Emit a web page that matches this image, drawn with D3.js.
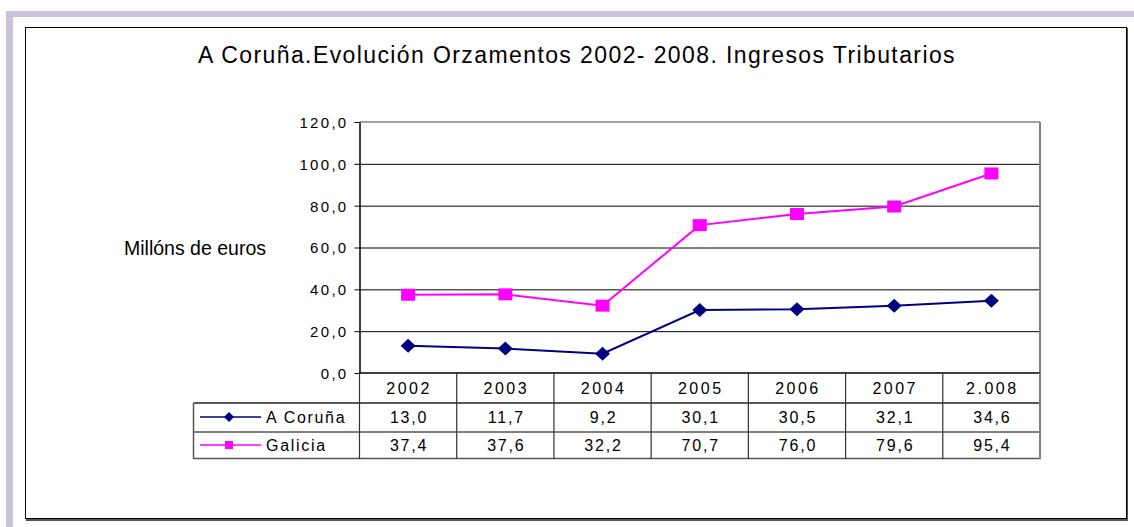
<!DOCTYPE html>
<html><head><meta charset="utf-8">
<script src="https://cdn.jsdelivr.net/npm/d3@7"></script>
<style>
html,body{margin:0;padding:0;background:#fff;}
svg{display:block;font-family:"Liberation Sans",Arial,sans-serif;}
</style></head>
<body>
<svg id="c" width="1134" height="527"></svg>
<script>
const categories = ["2002","2003","2004","2005","2006","2007","2.008"];
const coruna = [13.0, 11.7, 9.2, 30.1, 30.5, 32.1, 34.6];
const galicia = [37.4, 37.6, 32.2, 70.7, 76.0, 79.6, 95.4];
const yTicks = [0,20,40,60,80,100,120];
const seriesNames = ["A Coruña","Galicia"];
const title = "A Coruña.Evolución Orzamentos 2002- 2008. Ingresos Tributarios";
const yLabel = "Millóns de euros";

const svg = d3.select("#c");
const fmt = v => d3.format(".1f")(v).replace(".", ",");

// lavender frame
svg.append("rect").attr("x",6).attr("y",11).attr("width",1128).attr("height",6).attr("fill","#ccc1da");
svg.append("rect").attr("x",6).attr("y",11).attr("width",7).attr("height",516).attr("fill","#ccc1da");

// chart border with shadow
svg.append("line").attr("x1",1127).attr("x2",1127).attr("y1",28).attr("y2",521).attr("stroke","#555").attr("stroke-width",2);
svg.append("line").attr("x1",26).attr("x2",1128).attr("y1",520).attr("y2",520).attr("stroke","#555").attr("stroke-width",2);
svg.append("rect").attr("x",25.5).attr("y",27.5).attr("width",1101).attr("height",491)
  .attr("fill","none").attr("stroke","#000").attr("stroke-width",1);

const L = 359.5, R = 1040, T = 122, B = 373;
const x = d3.scaleBand().domain(categories).range([L, R]).padding(0);
const y = d3.scaleLinear().domain([0,120]).range([B, T]);

// title
svg.append("text").attr("x",577).attr("y",63).attr("text-anchor","middle")
  .attr("font-size",23).attr("letter-spacing",1.4).attr("fill","#000").text(title);
svg.append("text").attr("x",124).attr("y",255).attr("font-size",19.5).attr("fill","#000").text(yLabel);

// gridlines
svg.append("g").selectAll("line").data(yTicks.filter(t=>t>0 && t<120)).join("line")
  .attr("x1",L).attr("x2",R).attr("y1",d=>y(d)+0.5).attr("y2",d=>y(d)+0.5)
  .attr("stroke","#000").attr("stroke-width",1);
svg.append("line").attr("x1",L).attr("x2",R).attr("y1",y(120)).attr("y2",y(120)).attr("stroke","#808080").attr("stroke-width",1.5);
svg.append("line").attr("x1",R).attr("x2",R).attr("y1",y(120)).attr("y2",B).attr("stroke","#808080").attr("stroke-width",2);

// y axis
const ya = svg.append("g").attr("transform",`translate(${L},0)`)
  .call(d3.axisLeft(y).tickValues(yTicks).tickFormat(fmt).tickSize(5).tickSizeOuter(0));
ya.select(".domain").attr("stroke","#000").attr("stroke-width",1.5);
ya.selectAll(".tick line").attr("stroke","#000");
ya.selectAll(".tick text").attr("font-size",15).attr("letter-spacing",2.3)
  .attr("fill","#000").attr("font-family","Liberation Sans, Arial, sans-serif").attr("x",-11).attr("dy","0.36em");

svg.append("line").attr("x1",L).attr("x2",R).attr("y1",B).attr("y2",B).attr("stroke","#000").attr("stroke-width",1.5);

// table
const tbl = svg.append("g");
const LL = 193.5;
tbl.append("line").attr("x1",LL).attr("x2",R).attr("y1",403).attr("y2",403).attr("stroke","#222").attr("stroke-width",1.5);
tbl.append("line").attr("x1",LL).attr("x2",R).attr("y1",432).attr("y2",432).attr("stroke","#000").attr("stroke-width",1);
tbl.append("line").attr("x1",LL).attr("x2",R+1).attr("y1",458.5).attr("y2",458.5).attr("stroke","#555").attr("stroke-width",1.5);
tbl.append("line").attr("x1",LL).attr("x2",LL).attr("y1",403).attr("y2",459).attr("stroke","#555").attr("stroke-width",1.5);
const bounds = categories.map(c=>x(c)).concat([R]);
tbl.selectAll("line.v").data(bounds).join("line").attr("class","v")
  .attr("x1",d=>d).attr("x2",d=>d).attr("y1",B).attr("y2",459)
  .attr("stroke",(d,i)=> i===bounds.length-1 ? "#808080" : "#333").attr("stroke-width",(d,i)=> i===bounds.length-1 ? 2 : 1.2);

tbl.selectAll("text.yr").data(categories).join("text").attr("class","yr")
  .attr("x",d=>x(d)+x.bandwidth()/2+1).attr("y",394).attr("text-anchor","middle")
  .attr("font-size",16).attr("letter-spacing",2.5).attr("fill","#000").text(d=>d);
const rows = [coruna, galicia];
rows.forEach((vals,ri)=>{
  const yy = ri===0 ? 423 : 451;
  tbl.selectAll("text.r"+ri).data(vals).join("text").attr("class","r"+ri)
    .attr("x",(d,i)=>x(categories[i])+x.bandwidth()/2+1).attr("y",yy).attr("text-anchor","middle")
    .attr("font-size",16).attr("letter-spacing",1.8).attr("fill","#000").text(d=>fmt(d));
});

// series
const colors = ["#000080","#ff00ff"];
const cx = i => x(categories[i]) + x.bandwidth()/2;
const line = d3.line().x((d,i)=>cx(i)).y(d=>y(d));
rows.forEach((vals,ri)=>{
  svg.append("path").datum(vals).attr("d",line).attr("fill","none")
    .attr("stroke",colors[ri]).attr("stroke-width",2);
});
svg.append("g").selectAll("path").data(coruna).join("path")
  .attr("d",(d,i)=>`M${cx(i)},${y(d)-7}L${cx(i)+7.5},${y(d)}L${cx(i)},${y(d)+7}L${cx(i)-7.5},${y(d)}Z`)
  .attr("fill","#000080");
svg.append("g").selectAll("rect").data(galicia).join("rect")
  .attr("x",(d,i)=>cx(i)-7).attr("y",d=>y(d)-6).attr("width",14).attr("height",12)
  .attr("fill","#ff00ff");

// legend keys
const legY = [417, 445];
seriesNames.forEach((n,ri)=>{
  const ly = legY[ri];
  svg.append("line").attr("x1",200).attr("x2",261).attr("y1",ly).attr("y2",ly).attr("stroke",colors[ri]).attr("stroke-width",1.5);
  if(ri===0){
    svg.append("path").attr("d",`M229,${ly-5}L234,${ly}L229,${ly+5}L224,${ly}Z`).attr("fill","#000080");
  } else {
    svg.append("rect").attr("x",225).attr("y",ly-4).attr("width",8).attr("height",8).attr("fill","#ff00ff");
  }
  svg.append("text").attr("x",266).attr("y",ly+6).attr("font-size",16).attr("letter-spacing",1.7).attr("fill","#000").text(n);
});
</script>
</body></html>
